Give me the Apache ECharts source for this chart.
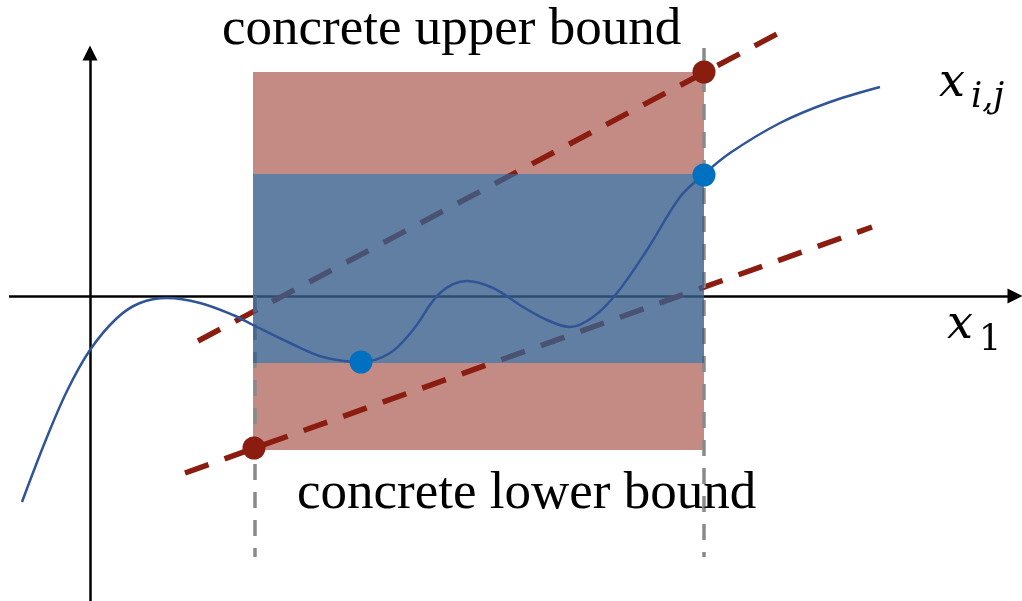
<!DOCTYPE html>
<html>
<head>
<meta charset="utf-8">
<script src="https://cdn.jsdelivr.net/npm/echarts@6/dist/echarts.min.js"></script>
<style>
  html, body { margin: 0; padding: 0; background: #fff; }
  #chart { width: 1022px; height: 601px; }
</style>
</head>
<body>
<div id="chart"></div>
<script>
// coordinates: x to the right of the y axis, y above the x axis
const curve = [
    [-68, -206], [-45, -146], [-23, -95], [0, -54], [27, -22],
    [50, -7], [77, -2], [110, -7], [143, -19], [163, -29], [200, -47],
    [233, -61], [271, -66], [300, -57], [323, -34], [350, 3], [377, 15],
    [403, 8], [433, -11], [457, -24], [480, -31], [503, -21], [527, 3],
    [557, 46], [590, 99], [613, 121], [640, 143], [690, 173], [740, 194], [790, 209]
];
const upperLine = [[108, -45], [687, 262]];
const lowerLine = [[95, -177], [782, 69]];
const boxX = [163, 614];
const upperBand = [122, 224];
const innerBand = [-67, 122];
const lowerBand = [-154, -67];
const leftGuide = [[165, 0], [165, -261]];
const rightGuide = [[614, 248], [614, -261]];
const boundPoints = [[614, 224], [164, -152]];
const curvePoints = [[614, 121], [271, -66]];
const xAxisLine = [[-81, 0], [925, 0]];
const yAxisLine = [[0, -305], [0, 243]];

const chart = echarts.init(document.getElementById('chart'));

const band = (yr) => [{ coord: [boxX[0], yr[1]] }, { coord: [boxX[1], yr[0]] }];
const guideStyle = { color: '#8a8a8a', width: 3.5, type: [16, 12] };
const redDash = { color: '#8b1c10', width: 5.5, type: [25, 17] };
const serif = 'Liberation Serif';
const math = 'DejaVu Serif';

const option = {
    animation: false,
    grid: { left: 0, right: 0, top: 0, bottom: 0 },
    xAxis: { type: 'value', min: -90, max: 932, show: false },
    yAxis: { type: 'value', min: -305, max: 296, show: false },
    series: [
        {
            type: 'line', data: [], z: 1,
            markArea: {
                silent: true, z: 1,
                itemStyle: { color: '#c48b84' },
                data: [band(upperBand), band(lowerBand)]
            }
        },
        { type: 'line', data: upperLine, symbol: 'none', z: 2, lineStyle: redDash },
        { type: 'line', data: lowerLine, symbol: 'none', z: 2, lineStyle: redDash },
        { type: 'line', data: leftGuide, symbol: 'none', z: 2, lineStyle: guideStyle },
        { type: 'line', data: rightGuide, symbol: 'none', z: 2, lineStyle: guideStyle },
        {
            type: 'line', data: [], z: 2,
            markLine: {
                silent: true, z: 2,
                symbol: ['none', 'triangle'],
                symbolSize: [15, 15],
                label: { show: false },
                lineStyle: { color: '#000', width: 2.5, type: 'solid' },
                data: [
                    [{ coord: xAxisLine[0] }, { coord: xAxisLine[1] }],
                    [{ coord: yAxisLine[0] }, { coord: yAxisLine[1] }]
                ]
            }
        },
        {
            type: 'line', data: [], z: 3,
            markArea: {
                silent: true, z: 3,
                itemStyle: { color: 'rgba(58,95,140,0.8)' },
                data: [band(innerBand)]
            }
        },
        {
            type: 'line', data: curve, smooth: 0.35, symbol: 'none', z: 4,
            lineStyle: { color: '#2f5597', width: 2.5 }
        },
        {
            type: 'scatter', data: boundPoints, symbolSize: 23, z: 5,
            itemStyle: { color: '#8b1c10', opacity: 1 }
        },
        {
            type: 'scatter', data: curvePoints, symbolSize: 23, z: 5,
            itemStyle: { color: '#0070c0', opacity: 1 }
        }
    ],
    graphic: [
        { type: 'text', left: 222, top: 4, z: 10, style: { text: 'concrete upper bound', font: '53px "' + serif + '"', fill: '#000' } },
        { type: 'text', left: 297, top: 468, z: 10, style: { text: 'concrete lower bound', font: '53px "' + serif + '"', fill: '#000' } },
        { type: 'text', left: 939, top: 61, z: 10, style: { text: 'x', font: 'italic 46px "' + math + '"', fill: '#000' } },
        { type: 'text', left: 971, top: 80, z: 10, style: { text: 'i,j', font: 'italic 35px "' + math + '"', fill: '#000' } },
        { type: 'text', left: 947, top: 303, z: 10, style: { text: 'x', font: 'italic 46px "' + math + '"', fill: '#000' } },
        { type: 'text', left: 979, top: 323, z: 10, style: { text: '1', font: '35px "' + math + '"', fill: '#000' } }
    ]
};

chart.setOption(option);
</script>
</body>
</html>
